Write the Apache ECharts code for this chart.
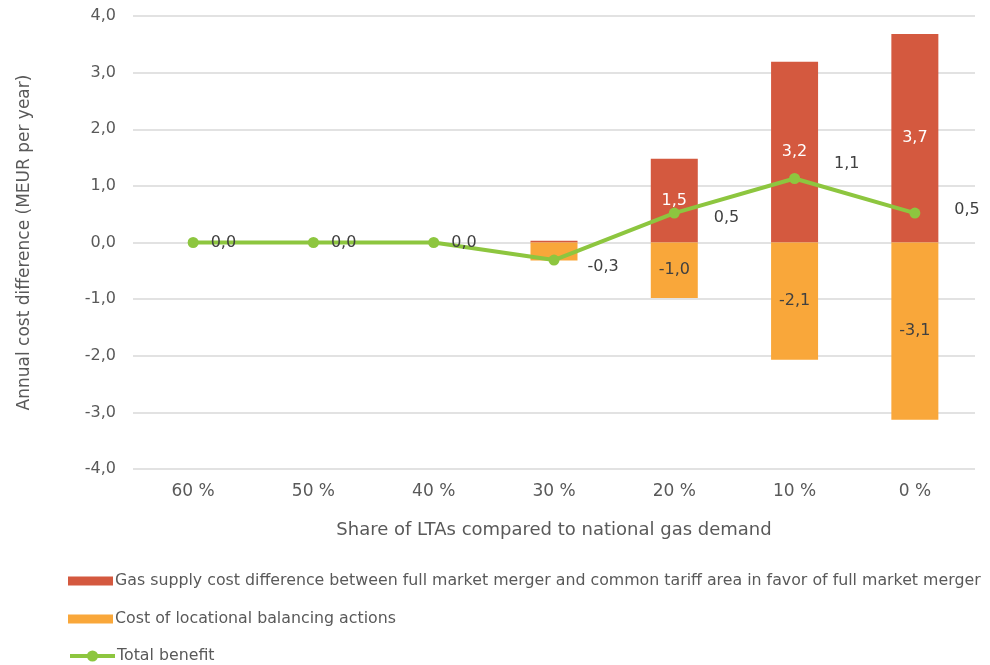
<!DOCTYPE html>
<html>
<head>
<meta charset="utf-8">
<script src="https://cdn.jsdelivr.net/npm/echarts@6/dist/echarts.min.js"></script>
<style>html,body{margin:0;padding:0;background:#fff;}#c{width:990px;height:665px;}</style>
</head>
<body>
<div id="c"></div>
<script>
var categories = ['60 %', '50 %', '40 %', '30 %', '20 %', '10 %', '0 %'];
var supplyCost = [0, 0, 0, 0.03, 1.48, 3.19, 3.68];
var balancingCost = [0, 0, 0, -0.32, -0.98, -2.07, -3.13];
var totalBenefit = [0, 0, 0, -0.31, 0.52, 1.13, 0.52];
var seriesNames = [
  'Gas supply cost difference between full market merger and common tariff area in favor of full market merger',
  'Cost of locational balancing actions',
  'Total benefit'
];
var yTicks = { min: -4, max: 4, interval: 1 };

var fontFam = '"DejaVu Sans", sans-serif';
var txt = '#595959';
function fmt(v) { return v.toFixed(1).replace('.', ','); }

var lineOffsets = [[2,0],[2,0],[2,0],[18,7],[24,5],[24,-15],[24,-3]];

function legendRow(i, top) {
  var item = i < 2 ? { name: seriesNames[i], icon: 'rect' } : { name: seriesNames[i] };
  return {
    left: 68, top: top, itemWidth: 45, itemHeight: i < 2 ? 9 : 14, padding: 0,
    lineStyle: { width: 4 },
    textStyle: { color: txt, fontSize: 15.8, fontFamily: fontFam, padding: [0,0,0,-3] },
    data: [ item ]
  };
}

var chart = echarts.init(document.getElementById('c'));
chart.setOption({
  animation: false,
  textStyle: { fontFamily: fontFam },
  grid: { left: 133, right: 15, top: 16, bottom: 196, containLabel: false },
  legend: [ legendRow(0, 573), legendRow(1, 611), legendRow(2, 648) ],
  xAxis: {
    type: 'category', data: categories,
    axisLine: { show: false }, axisTick: { show: false },
    axisLabel: { color: txt, fontSize: 17, margin: 14 },
    name: 'Share of LTAs compared to national gas demand',
    nameLocation: 'middle', nameGap: 52,
    nameTextStyle: { color: txt, fontSize: 18 }
  },
  yAxis: {
    type: 'value', min: yTicks.min, max: yTicks.max, interval: yTicks.interval,
    axisLine: { show: false }, axisTick: { show: false },
    axisLabel: { color: txt, fontSize: 16, margin: 17, formatter: function (v) { return fmt(v); } },
    splitLine: { lineStyle: { color: '#d9d9d9', width: 1.5 } },
    name: 'Annual cost difference (MEUR per year)',
    nameLocation: 'middle', nameGap: 100, nameRotate: 90,
    nameTextStyle: { color: txt, fontSize: 17 }
  },
  series: [
    {
      name: seriesNames[0], type: 'bar', stack: 's', barWidth: 47,
      itemStyle: { color: '#D4593F' },
      z: 1,
      data: supplyCost,
      label: {
        show: true, position: 'inside', color: '#ffffff', fontSize: 16,
        formatter: function (p) { return p.value >= 1 ? fmt(p.value) : ''; }
      }
    },
    {
      name: seriesNames[1], type: 'bar', stack: 's', barWidth: 47,
      itemStyle: { color: '#F9A73A' },
      z: 1,
      data: balancingCost,
      label: {
        show: true, position: 'inside', color: '#404040', fontSize: 16,
        formatter: function (p) { return p.value <= -0.5 ? fmt(p.value) : ''; }
      }
    },
    {
      name: seriesNames[2], type: 'line',
      itemStyle: { color: '#8DC63F' },
      lineStyle: { color: '#8DC63F', width: 4 },
      symbol: 'circle', symbolSize: 11,
      z: 5,
      data: totalBenefit.map(function (v, i) {
        return { value: v, label: { offset: lineOffsets[i] } };
      }),
      label: {
        show: true, position: 'right', distance: 10, color: '#404040', fontSize: 16,
        formatter: function (p) { return fmt(p.value); }
      }
    }
  ]
});
</script>
</body>
</html>
